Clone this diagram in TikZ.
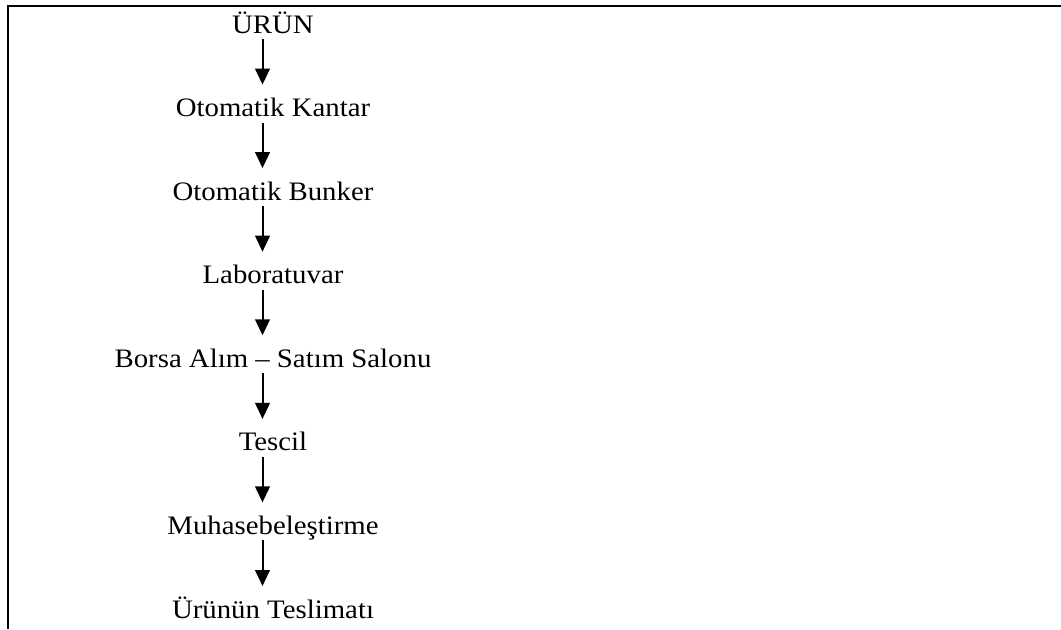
\documentclass[tikz,border=0pt]{standalone}
\usepackage{fontspec}
\setmainfont{Liberation Serif}[FakeStretch=1.08]
\usetikzlibrary{arrows.meta,calc}

\tikzset{
  stage/.style={anchor=base,inner sep=0.75pt,font=\fontsize{20}{24}\selectfont},
  flow/.style={line width=1.5pt,-{Triangle[width=11pt,length=12pt]}}
}

\begin{document}
\begin{tikzpicture}[x=0.75pt,y=0.75pt,yscale=-1,xscale=1]
\useasboundingbox (0,0) rectangle (1061,629);

%Frame: top and left edge
\draw [line width=1.5pt] (7.5,629) -- (7.5,5.5) -- (1061,5.5) ;

% Text Node
\node [stage] (urun) at (273,33) {ÜRÜN};
% Text Node
\node [stage] (kantar) at (273,116.6) {Otomatik Kantar};
% Text Node
\node [stage] (bunker) at (273,200.1) {Otomatik Bunker};
% Text Node
\node [stage] (lab) at (273,283.7) {Laboratuvar};
% Text Node
\node [stage] (borsa) at (273,367.3) {Borsa Alım – Satım Salonu};
% Text Node
\node [stage] (tescil) at (273,450.9) {Tescil};
% Text Node
\node [stage] (muhasebe) at (273,534.4) {Muhasebeleştirme};
% Text Node
\node [stage] (teslimat) at (273,618) {Ürünün Teslimatı};

%Straight Lines
\draw [flow] ($(urun.base)+(-10.5,6)$) -- ($(kantar.base)+(-10.5,-32)$) ;
%Straight Lines
\draw [flow] ($(kantar.base)+(-10.5,6)$) -- ($(bunker.base)+(-10.5,-32)$) ;
%Straight Lines
\draw [flow] ($(bunker.base)+(-10.5,6)$) -- ($(lab.base)+(-10.5,-32)$) ;
%Straight Lines
\draw [flow] ($(lab.base)+(-10.5,6)$) -- ($(borsa.base)+(-10.5,-32)$) ;
%Straight Lines
\draw [flow] ($(borsa.base)+(-10.5,6)$) -- ($(tescil.base)+(-10.5,-32)$) ;
%Straight Lines
\draw [flow] ($(tescil.base)+(-10.5,6)$) -- ($(muhasebe.base)+(-10.5,-32)$) ;
%Straight Lines
\draw [flow] ($(muhasebe.base)+(-10.5,6)$) -- ($(teslimat.base)+(-10.5,-32)$) ;

\end{tikzpicture}
\end{document}
